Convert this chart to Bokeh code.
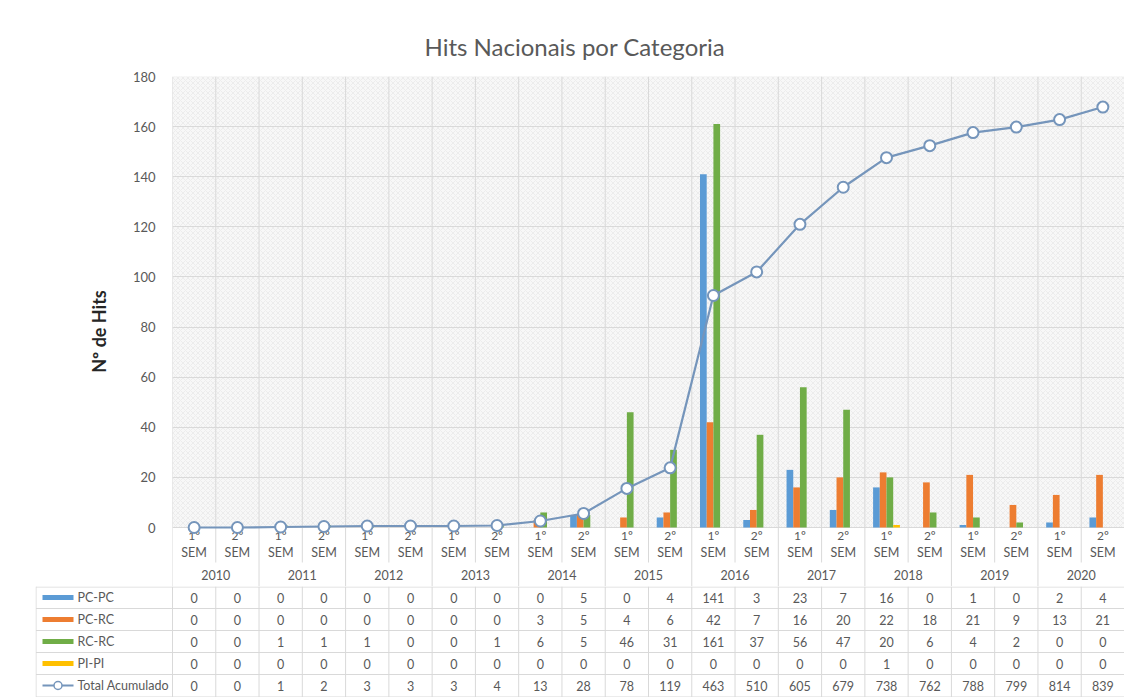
import numpy as np
from bokeh.plotting import figure
from bokeh.models import Range1d, FixedTicker, BoxAnnotation
from bokeh.layouts import column
from bokeh.core.properties import value
from bokeh.embed import file_html
from bokeh.resources import INLINE

# ---------------- data ----------------
years = ["2010", "2011", "2012", "2013", "2014", "2015", "2016", "2017", "2018", "2019", "2020"]
sem_num = ["1º", "2º"] * 11
series_names = ["PC-PC", "PC-RC", "RC-RC", "PI-PI"]
pc_pc = [0, 0, 0, 0, 0, 0, 0, 0, 0, 5, 0, 4, 141, 3, 23, 7, 16, 0, 1, 0, 2, 4]
pc_rc = [0, 0, 0, 0, 0, 0, 0, 0, 3, 5, 4, 6, 42, 7, 16, 20, 22, 18, 21, 9, 13, 21]
rc_rc = [0, 0, 1, 1, 1, 0, 0, 1, 6, 5, 46, 31, 161, 37, 56, 47, 20, 6, 4, 2, 0, 0]
pi_pi = [0, 0, 0, 0, 0, 0, 0, 0, 0, 0, 0, 0, 0, 0, 0, 0, 1, 0, 0, 0, 0, 0]
total = [0, 0, 1, 2, 3, 3, 3, 4, 13, 28, 78, 119, 463, 510, 605, 679, 738, 762, 788, 799, 814, 839]
y_ticks = [0, 20, 40, 60, 80, 100, 120, 140, 160, 180]

# ---------------- style ----------------
colors = ["#5B9BD5", "#ED7D31", "#70AD47", "#FFC000"]
line_col = "#7595BB"
txt_col = "#595959"
grid_col = "#d9d9d9"
FONT = "Lato"

n = len(total)
xs = np.arange(n) + 0.5
W = 1124
FL = 172            # frame left (px)
FT = 76             # frame top (px)
ZERO = 527          # pixel row of value 0
TBL = 586           # top of data table (px)
H = 697
unit = (W - FL) / n
ppu = (ZERO - FT) / 180.0
y_bot = -(TBL - ZERO) / ppu

# ---------------- main chart (with category axis area) ----------------
p = figure(width=W, height=TBL, x_range=Range1d(0, n), y_range=Range1d(y_bot, 180),
           x_axis_type=None, output_backend="svg", toolbar_location=None,
           min_border_left=FL, min_border_right=0, min_border_bottom=0,
           min_border_top=FT, title="Hits Nacionais por Categoria")
p.frame_align = False
p.outline_line_color = None
p.background_fill_color = "white"
p.border_fill_color = "white"

bg = BoxAnnotation(bottom=0, fill_color="#f7f7f7", fill_alpha=1.0, line_color=grid_col,
                   hatch_pattern="x", hatch_color="#e4e4e4", hatch_scale=5,
                   hatch_weight=0.6, level="image")
p.add_layout(bg)

p.ygrid.grid_line_color = grid_col
p.ygrid.ticker = FixedTicker(ticks=y_ticks)

p.yaxis.ticker = FixedTicker(ticks=y_ticks)
p.yaxis.axis_line_color = None
p.yaxis.major_tick_line_color = None
p.yaxis.minor_tick_line_color = None
p.yaxis.major_label_text_color = txt_col
p.yaxis.major_label_text_font = FONT
p.yaxis.major_label_text_font_size = "13px"
p.yaxis.major_label_standoff = 11
p.yaxis.axis_label = "Nº de Hits"
p.yaxis.axis_label_text_font = FONT
p.yaxis.axis_label_text_font_style = "bold"
p.yaxis.axis_label_text_font_size = "18px"
p.yaxis.axis_label_text_color = "#262626"
p.yaxis.axis_label_standoff = 20

p.title.text_font = FONT
p.title.text_font_size = "24px"
p.title.text_font_style = "normal"
p.title.text_color = txt_col
p.title.align = "left"
p.title.offset = 252
p.title.standoff = 32

# vertical category boundaries
bounds = np.arange(0, n + 1)
p.segment(x0=bounds, y0=0, x1=bounds, y1=180, line_color=grid_col, line_width=1)
sem_b = np.arange(1, n, 2)
year_b = np.arange(0, n + 1, 2)
p.segment(x0=sem_b, y0=0, x1=sem_b, y1=-35 / ppu, line_color=grid_col, line_width=1)
p.segment(x0=year_b, y0=0, x1=year_b, y1=y_bot, line_color=grid_col, line_width=1)

# category labels
p.text(x=xs, y=-8 / ppu, text=sem_num, text_align="center", text_baseline="middle",
       text_font=value(FONT), text_font_size="12px", text_color=txt_col)
p.text(x=xs, y=-25 / ppu, text=["SEM"] * n, text_align="center", text_baseline="middle",
       text_font=value(FONT), text_font_size="12.5px", text_color=txt_col)
p.text(x=np.arange(1, n, 2), y=-47 / ppu, text=years, text_align="center",
       text_baseline="middle", text_font=value(FONT), text_font_size="12.5px",
       text_color=txt_col)

# bars
bw = 0.155
offsets = [-1.5 * bw, -0.5 * bw, 0.5 * bw, 1.5 * bw]
for vals, c, off in zip([pc_pc, pc_rc, rc_rc, pi_pi], colors, offsets):
    p.vbar(x=xs + off, bottom=0, top=vals, width=bw, fill_color=c, line_color=None)

# cumulative total on a hidden secondary scale
p.extra_y_ranges = {"tot": Range1d(y_bot * 5, 900)}
p.line(xs, total, y_range_name="tot", line_color=line_col, line_width=2.2)
p.scatter(xs, total, y_range_name="tot", size=11, fill_color="white",
          line_color=line_col, line_width=2)

# ---------------- data table ----------------
H2 = H - TBL
TL = 35
x_start = -(FL - TL) / unit
q = figure(width=W, height=H2, x_range=Range1d(x_start, n), y_range=Range1d(H2, 0),
           x_axis_type=None, y_axis_type=None, output_backend="svg",
           toolbar_location=None, min_border_left=TL, min_border_right=0,
           min_border_top=0, min_border_bottom=0)
q.frame_align = False
q.outline_line_color = None


def px(xpix):
    return (xpix - FL) / unit


row_h = (H2 - 1) / 5
rows_y = [row_h * (k + 0.5) for k in range(5)]

all_b = np.concatenate([[px(TL + 0.5)], np.arange(0, n + 1)])
q.segment(x0=all_b, y0=0, x1=all_b, y1=H2 - 0.5, line_color=grid_col, line_width=1)
hy = [row_h * k for k in range(6)]
hy[0] = 0.5
hy[-1] = H2 - 0.5
q.segment(x0=px(TL + 0.5), y0=hy, x1=n, y1=hy, line_color=grid_col, line_width=1)

for vals, ry in zip([pc_pc, pc_rc, rc_rc, pi_pi, total], rows_y):
    q.text(x=xs, y=ry, text=[str(v) for v in vals], text_align="center",
           text_baseline="middle", text_font=value(FONT), text_font_size="12.5px",
           text_color=txt_col)

for c, ry in zip(colors, rows_y[:4]):
    q.segment(x0=px(42), y0=ry, x1=px(73), y1=ry, line_color=c, line_width=5)
q.segment(x0=px(42), y0=rows_y[4], x1=px(73), y1=rows_y[4], line_color=line_col,
          line_width=2)
q.scatter(x=[px(57.5)], y=[rows_y[4]], size=8, fill_color="white", line_color=line_col,
          line_width=1.5)
q.text(x=px(77), y=rows_y, text=series_names + ["Total Acumulado"], text_align="left",
       text_baseline="middle", text_font=value(FONT), text_font_size="12.5px",
       text_color=txt_col)

layout = column(p, q, spacing=0)
open("out.html", "w").write(file_html(layout, INLINE))
